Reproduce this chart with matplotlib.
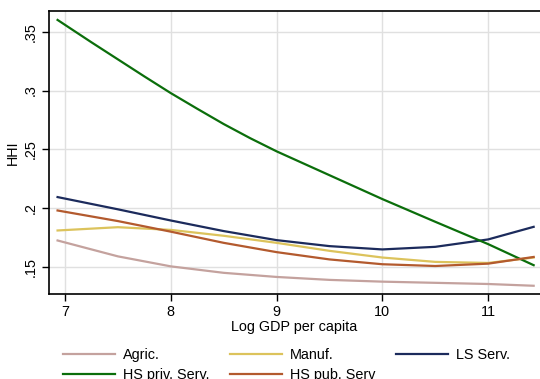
import numpy as np
import matplotlib.pyplot as plt

plt.rcParams['font.family'] = ['Liberation Sans', 'DejaVu Sans']

# values (log GDP per capita vs HHI)
x = [6.93, 7.5, 8.0, 8.5, 9.0, 9.5, 10.0, 10.5, 11.0, 11.43]
agric = [0.1725, 0.1590, 0.1505, 0.1450, 0.1415, 0.1390, 0.1375, 0.1365, 0.1355, 0.1340]
manuf = [0.1810, 0.1838, 0.1815, 0.1765, 0.1705, 0.1637, 0.1580, 0.1543, 0.1534, 0.1580]
ls_serv = [0.2094, 0.1990, 0.1895, 0.1805, 0.1728, 0.1677, 0.1649, 0.1671, 0.1734, 0.1841]
hs_pub = [0.1980, 0.1890, 0.1800, 0.1705, 0.1626, 0.1564, 0.1523, 0.1508, 0.1528, 0.1585]
# the steep green curve was read on a finer grid
x_priv = [6.93, 7.25, 7.5, 7.75, 8.0, 8.25, 8.5, 8.75, 9.0, 9.5, 10.0, 10.5, 11.0, 11.43]
hs_priv = [0.3600, 0.3410, 0.3265, 0.3120, 0.2978, 0.2845, 0.2715, 0.2595,
           0.2483, 0.2280, 0.2077, 0.1884, 0.1694, 0.1515]

labels = ['Agric.', 'Manuf.', 'LS Serv.', 'HS priv. Serv.', 'HS pub. Serv']
colors = ['#c4a29e', '#dcc35c', '#1c2b5c', '#0b6e0b', '#b35a2e']
yticks = [0.15, 0.2, 0.25, 0.3, 0.35]
ytick_labels = ['.15', '.2', '.25', '.3', '.35']
xticks = [7, 8, 9, 10, 11]

fig = plt.figure(figsize=(5.4, 3.79), dpi=100)
ax = fig.add_axes([49 / 540, 1 - 294 / 379, 1 - 49 / 540, (294 - 11) / 379])

xs = [x, x, x, x_priv, x]
series = [agric, manuf, ls_serv, hs_priv, hs_pub]
lines = []
for xv, ys, lab, col in zip(xs, series, labels, colors):
    ln, = ax.plot(xv, ys, color=col, lw=1.6, label=lab)
    lines.append(ln)

ax.set_xlim(6.849, 11.49)
ax.set_ylim(0.127, 0.3676)
ax.set_xticks(xticks)
ax.set_yticks(yticks)
ax.set_yticklabels(ytick_labels, rotation=90, va='center')
ax.grid(True, color='#e0e0e0', lw=1)
ax.set_axisbelow(True)
ax.tick_params(direction='out', length=5, width=1, labelsize=10.4, pad=3)
for s in ['left', 'bottom', 'top']:
    ax.spines[s].set_linewidth(1.2)
ax.spines['right'].set_visible(False)

ax.set_xlabel('Log GDP per capita', fontsize=10.4, labelpad=1)
ax.set_ylabel('HHI', fontsize=10.4, labelpad=3)

# legend fills row by row in the reference: reorder for column-major filling
# (second row is cut by the bottom edge, as in the reference)
order = [0, 3, 1, 4, 2]
fig.legend([lines[i] for i in order], [labels[i] for i in order], ncol=3,
           loc='upper left', bbox_to_anchor=(63 / 540, 1 - 348 / 379),
           frameon=False, borderpad=0, borderaxespad=0, handlelength=3.6,
           handletextpad=0.55, columnspacing=1.42, labelspacing=0.45,
           fontsize=10.4)

fig.savefig('out.png', dpi=100)
